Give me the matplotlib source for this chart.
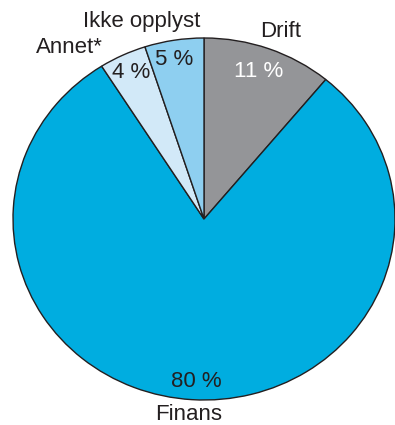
import matplotlib
matplotlib.use("Agg")
import matplotlib.pyplot as plt

categories = ["Drift", "Finans", "Annet*", "Ikke opplyst"]
shares = [11, 80, 4, 5]
value_labels = ["11 %", "80 %", "4 %", "5 %"]
colors = ["#949598", "#00ADE0", "#D2E9F8", "#8ECFF0"]

W, H = 395, 425
cx, cy, rx, ry = 204, 219, 191, 181

def px(x, y):
    """pixel position -> data coordinates of the unit pie"""
    return (x - cx) / rx, (cy - y) / ry

fig = plt.figure(figsize=(W / 100, H / 100), dpi=100)
ax = fig.add_axes([0, 0, 1, 1])
ax.pie(shares, colors=colors, startangle=90, counterclock=False,
       wedgeprops=dict(edgecolor="#231F20", linewidth=1.0))
ax.set_aspect("auto")
ax.set_xlim(px(0, 0)[0], px(W, 0)[0])
ax.set_ylim(px(0, H)[1], px(0, 0)[1])
ax.axis("off")

txt = dict(family="Liberation Sans", fontsize=16, ha="center", va="baseline")
dark = "#231F20"

name_pos = [(281, 37), (189, 420), (69, 53), (142, 27)]
value_pos = [(259, 77), (196, 387), (131, 78), (174, 65)]
value_colors = ["white", dark, dark, dark]

for name, (x, y) in zip(categories, name_pos):
    ax.text(*px(x, y), name, color=dark, **txt)
for lab, (x, y), c in zip(value_labels, value_pos, value_colors):
    ax.text(*px(x, y), lab, color=c, **txt)

fig.savefig("out.png", dpi=100)
